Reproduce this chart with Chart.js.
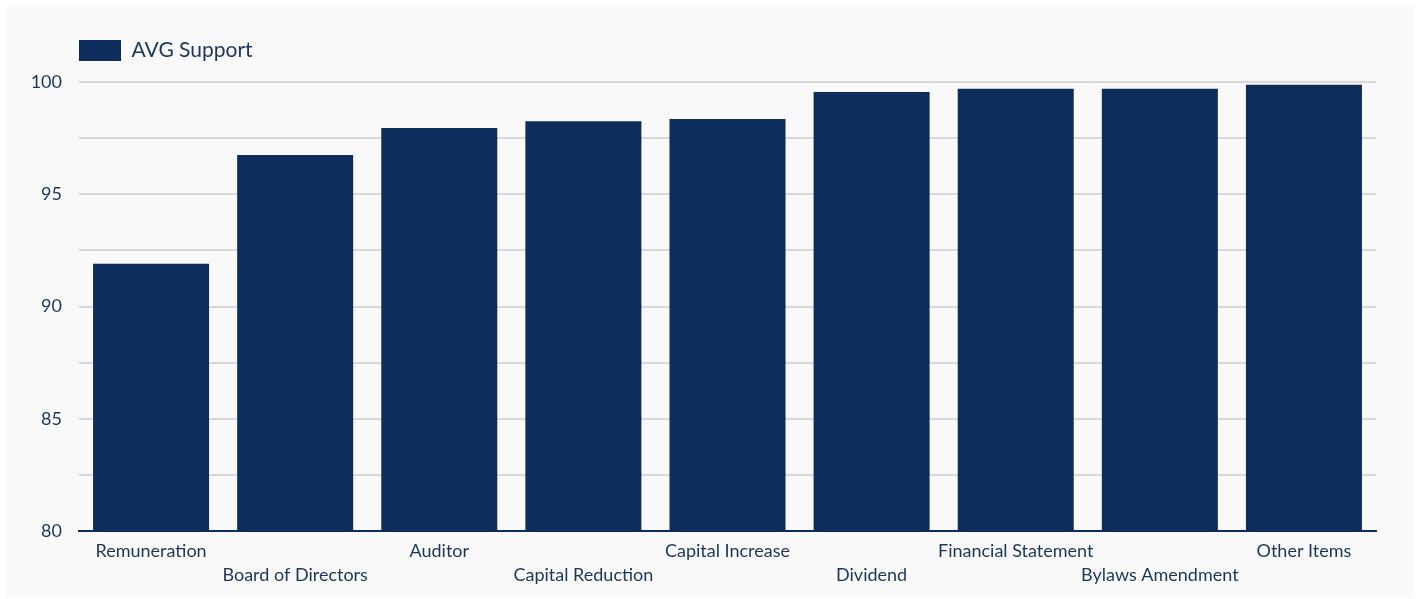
<!DOCTYPE html>
<html>
<head>
<meta charset="utf-8">
<title>AVG Support by Agenda Item</title>
<script src="https://cdn.jsdelivr.net/npm/chart.js@4.4.1/dist/chart.umd.min.js"></script>
<style>
  html, body { margin: 0; padding: 0; background: #ffffff; }
  #panel {
    position: absolute; left: 6px; top: 7px;
    width: 1407px; height: 591px;
    background: #f9f9f9;
  }
  #panel canvas { display: block; }
</style>
</head>
<body>
<div id="panel"><canvas id="chart" width="1407" height="591"></canvas></div>
<script>
// Agenda item categories and their average support (%)
const categories = [
  'Remuneration', 'Board of Directors', 'Auditor', 'Capital Reduction',
  'Capital Increase', 'Dividend', 'Financial Statement', 'Bylaws Amendment', 'Other Items'
];
const avgSupport = [91.9, 96.75, 97.95, 98.25, 98.35, 99.55, 99.7, 99.7, 99.88];
const seriesName = 'AVG Support';

// Y axis range and labelled tick interval
const yMin = 80;
const yMax = 100;
const gridStep = 2.5;
const labelStep = 5;

const navy = '#0d2d5c';
const textColor = '#1b365d';
const gridColor = '#d9d9d9';

// Extra space between the legend and the plot area
const legendGap = {
  id: 'legendGap',
  beforeInit(chart) {
    const origFit = chart.legend.fit;
    chart.legend.fit = function () {
      origFit.call(this);
      this.height += 11;
    };
  }
};

new Chart(document.getElementById('chart'), {
  type: 'bar',
  plugins: [legendGap],
  data: {
    labels: categories,
    datasets: [{
      label: seriesName,
      data: avgSupport,
      backgroundColor: navy,
      borderWidth: 0,
      barPercentage: 0.805,
      categoryPercentage: 1.0
    }]
  },
  options: {
    responsive: false,
    animation: false,
    layout: { padding: { left: 0, right: 37, top: 33, bottom: 3 } },
    plugins: {
      tooltip: { enabled: false },
      legend: {
        position: 'top',
        align: 'start',
        fullSize: false,
        labels: {
          boxWidth: 42,
          boxHeight: 21,
          padding: 0,
          color: textColor,
          font: { family: 'Lato', size: 21 }
        }
      }
    },
    scales: {
      x: {
        grid: { display: false, drawTicks: false },
        border: { display: true, color: navy, width: 2 },
        ticks: {
          autoSkip: false,
          maxRotation: 0,
          minRotation: 0,
          padding: 8,
          color: textColor,
          font: { family: 'Lato', size: 18, lineHeight: 1.333 },
          // alternate labels between two rows so long names don't collide
          callback: function (value, index) {
            const name = this.getLabelForValue(value);
            return index % 2 ? ['', name] : name;
          }
        }
      },
      y: {
        min: yMin,
        max: yMax,
        grid: { color: gridColor, lineWidth: 2, drawTicks: false },
        border: { display: false },
        afterFit: function (scale) { scale.width = 73; },
        ticks: {
          stepSize: gridStep,
          padding: 17,
          color: textColor,
          font: { family: 'Lato', size: 18 },
          callback: function (value) {
            return value % labelStep === 0 ? value : '';
          }
        }
      }
    }
  }
});
</script>
</body>
</html>
